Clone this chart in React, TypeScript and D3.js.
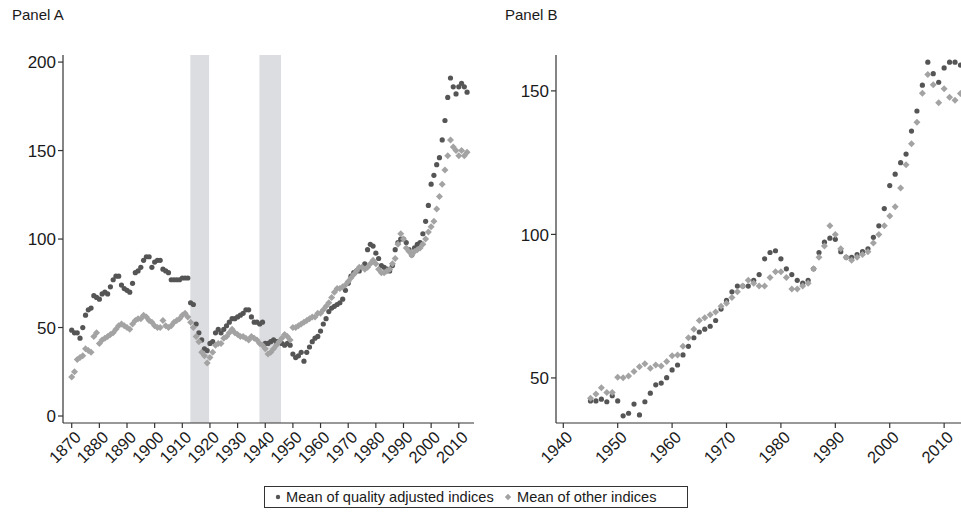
import React from "react";
import * as d3 from "d3";

// ---------- data ----------
const yearsA = d3.range(1870, 2014);
const qualityA = [
  48.5, 47, 47, 44, 50, 57, 60, 61, 68, 67,
  66, 69, 70, 69, 73, 77, 79, 79, 74, 72,
  71, 70, 75, 81, 82, 84, 88, 90, 90, 84,
  87, 88, 88, 83, 82, 81, 77, 77, 77, 77,
  78, 78, 78, 64, 63, 52, 47, 43, 38, 37,
  41, 42, 47, 49, 47, 49, 51, 53, 55, 55,
  56, 57, 58, 60, 60, 56, 53, 53, 52, 53,
  41, 41, 42, 43, 42, 42, 41, 40, 41, 40,
  35, 33, 34, 36, 31, 36, 39, 42, 44, 45,
  48, 52, 55, 59, 61, 62, 63, 64, 66, 71,
  75, 79, 81, 82, 82, 84, 86, 94, 97, 96,
  92, 89, 85, 84, 83, 82, 85, 94, 98, 100,
  100, 98, 94, 91, 95, 97, 98, 103, 110, 119,
  131, 136, 142, 146, 156, 167, 180, 191, 186, 182,
  186, 188, 186, 183,
];
const otherA = [
  22, 25, 32, 33, 34, 38, 37, 36, 45, 47,
  41, 43, 44, 45, 46, 47, 49, 51, 52, 51,
  50, 49, 52, 54, 55, 55, 57, 56, 54, 53,
  51, 50, 50, 54, 51, 50, 51, 53, 54, 55,
  57, 58, 56, 53, 50, 45, 42, 36, 34, 30,
  33, 36, 40, 41, 41, 44, 45, 47, 49, 47,
  46, 45, 45, 44, 43, 45, 44, 43, 41, 40,
  38, 35, 36, 38, 40, 42, 44, 46, 45, 43,
  50, 50, 51, 52, 53, 54, 55, 56, 56, 58,
  58, 60, 62, 64, 67, 70, 72, 72, 73, 74,
  76, 78, 80, 82, 84, 84, 83, 84, 86, 88,
  86, 83, 81, 81, 82, 83, 86, 89, 97, 103,
  100, 95, 93, 91, 93, 94, 95, 97, 100, 104,
  107, 110, 117, 124, 131, 139, 147, 156, 152, 150,
  147, 150, 147, 149,
];
const warPeriods: [number, number][] = [
  [1912.9, 1919.7],
  [1937.9, 1945.7],
];

const yearsB = d3.range(1945, 2014);
const qualityB = [
  42, 42, 42.6, 41.7, 43.8,
  42, 36.8, 37.7, 40.9, 37.1, 41.7, 44.7, 47.6, 48.2, 50.1,
  52.8, 54.5, 58, 61, 64, 66, 67, 68, 70, 74,
  77, 80, 82, 82, 82, 84, 86, 91.5, 93.7, 94.3,
  91.5, 88, 86, 84, 83, 84, 88, 93.7, 97.3, 98.7,
  98.3, 94, 92, 92, 93, 94, 95, 99, 103, 109,
  117, 121, 125, 128, 136, 143, 152, 160, 156, 153,
  158, 160, 160, 159,
];
const otherB = [
  42.9, 44.4, 46.6, 44.9, 44.9,
  50.2, 50.1, 50.7, 52.2, 53.9, 54.9, 53.4, 54.5, 54.2, 55.7,
  57.7, 58, 61, 64, 67, 70, 71, 72, 73, 75,
  76, 78, 80, 82, 84, 83, 82, 82, 85, 87,
  87, 85, 81, 81, 82, 83, 88, 92, 96, 103,
  100, 95, 92, 91, 92, 93, 94, 97, 100, 103,
  106.4, 109.6, 116.2, 124.3, 131.6, 139.1, 149.2, 155.7, 152.1, 145.9,
  150.7, 147.8, 146.7, 149.1,
];

const xTicksA = d3.range(1870, 2011, 10);
const yTicksA = [0, 50, 100, 150, 200];
const xTicksB = d3.range(1940, 2011, 10);
const yTicksB = [50, 100, 150];
const legendLabels = ["Mean of quality adjusted indices", "Mean of other indices"];

// ---------- style ----------
const FONT = "'Liberation Sans', Arial, Helvetica, sans-serif";
const DARK = "#555555";
const LIGHT = "#a3a3a3";
const AXIS = "#333333";
const TEXT = "#1a1a1a";
const BAND = "#dcdde0";
const TOP = 55;
const BOTTOM = 423;

const diamond = (cx: number, cy: number, r: number) =>
  `M${cx},${cy - r}L${cx + r},${cy}L${cx},${cy + r}L${cx - r},${cy}Z`;

type PanelProps = {
  title: string;
  titleX: number;
  x: d3.ScaleLinear<number, number>;
  y: d3.ScaleLinear<number, number>;
  xTicks: number[];
  yTicks: number[];
  years: number[];
  quality: number[];
  other: number[];
  bands?: [number, number][];
};

function Panel({ title, titleX, x, y, xTicks, yTicks, years, quality, other, bands }: PanelProps) {
  const [x0, x1] = x.range();
  return (
    <g>
      <text x={titleX} y={20} fontSize={15} fontFamily={FONT} fill={TEXT}>
        {title}
      </text>
      {(bands || []).map((b, i) => (
        <rect key={i} x={x(b[0])} y={TOP} width={x(b[1]) - x(b[0])} height={BOTTOM - TOP} fill={BAND} />
      ))}
      {/* y axis */}
      <line x1={x0} x2={x0} y1={TOP} y2={BOTTOM} stroke={AXIS} strokeWidth={1.2} />
      {yTicks.map((t) => (
        <g key={t}>
          <line x1={x0 - 5} x2={x0} y1={y(t)} y2={y(t)} stroke={AXIS} strokeWidth={1.2} />
          <text
            x={x0 - 7}
            y={y(t)}
            dy="0.36em"
            textAnchor="end"
            fontSize={17}
            fontFamily={FONT}
            fill={TEXT}
          >
            {t}
          </text>
        </g>
      ))}
      {/* x axis */}
      <line x1={x0} x2={x1} y1={BOTTOM} y2={BOTTOM} stroke={AXIS} strokeWidth={1.2} />
      {xTicks.map((t) => (
        <g key={t}>
          <line x1={x(t)} x2={x(t)} y1={BOTTOM} y2={BOTTOM + 5} stroke={AXIS} strokeWidth={1.2} />
          <text
            transform={`translate(${x(t) + 6},${BOTTOM + 11}) rotate(-45)`}
            dy="0.36em"
            textAnchor="end"
            fontSize={16.5}
            fontFamily={FONT}
            fill={TEXT}
          >
            {t}
          </text>
        </g>
      ))}
      {/* markers */}
      {years.map((yr, i) => (
        <circle key={"q" + yr} cx={x(yr)} cy={y(quality[i])} r={2.6} fill={DARK} />
      ))}
      {years.map((yr, i) => (
        <path key={"o" + yr} d={diamond(x(yr), y(other[i]), 3.5)} fill={LIGHT} />
      ))}
    </g>
  );
}

export default function App() {
  const xA = d3.scaleLinear().domain([1866.85, 2015.5]).range([63, 474]);
  const yA = d3.scaleLinear().domain([-3.95, 204]).range([BOTTOM, TOP]);
  const xB = d3.scaleLinear().domain([1938.66, 2013.1]).range([556, 961]);
  const yB = d3.scaleLinear().domain([34.3, 162.5]).range([BOTTOM, TOP]);

  return (
    <svg
      width={961}
      height={532}
      style={{ position: "absolute", left: 0, top: 0, background: "#fff" }}
    >
      <rect width={961} height={532} fill="#fff" />
      <Panel
        title="Panel A"
        titleX={12}
        x={xA}
        y={yA}
        xTicks={xTicksA}
        yTicks={yTicksA}
        years={yearsA}
        quality={qualityA}
        other={otherA}
        bands={warPeriods}
      />
      <Panel
        title="Panel B"
        titleX={505}
        x={xB}
        y={yB}
        xTicks={xTicksB}
        yTicks={yTicksB}
        years={yearsB}
        quality={qualityB}
        other={otherB}
      />
      {/* legend */}
      <g>
        <rect x={264.5} y={486.5} width={423} height={21} fill="#fff" stroke={AXIS} strokeWidth={1} />
        <circle cx={278} cy={497} r={2.2} fill={DARK} />
        <text x={286} y={502} fontSize={14.6} fontFamily={FONT} fill={TEXT}>
          {legendLabels[0]}
        </text>
        <path d={diamond(508, 497, 3.2)} fill={LIGHT} />
        <text x={517} y={502} fontSize={14.6} fontFamily={FONT} fill={TEXT}>
          {legendLabels[1]}
        </text>
      </g>
    </svg>
  );
}
